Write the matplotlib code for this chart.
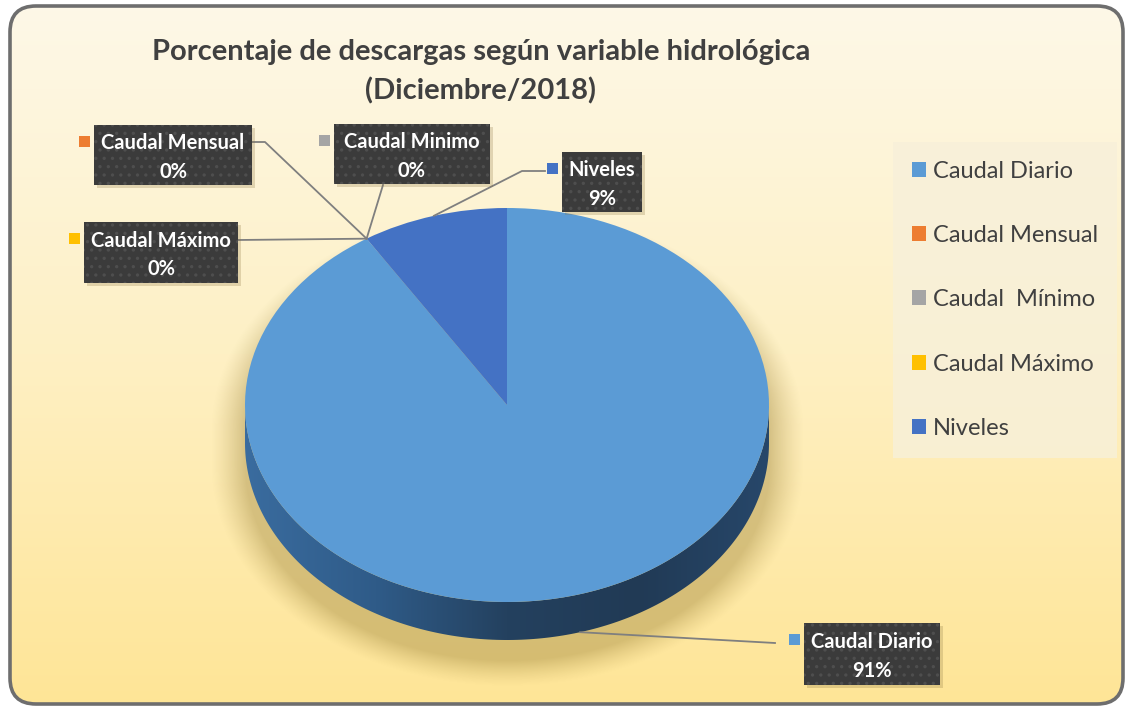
import matplotlib
matplotlib.use('Agg')
import matplotlib.pyplot as plt
import numpy as np
from matplotlib.colors import LinearSegmentedColormap
from matplotlib.patches import FancyBboxPatch, Rectangle, Polygon, Patch

plt.rcParams['font.family'] = ['Lato', 'DejaVu Sans']
plt.rcParams['hatch.linewidth'] = 1.2

W, H = 1135, 708

# data
categories = ['Caudal Diario', 'Caudal Mensual', 'Caudal Mínimo', 'Caudal Máximo', 'Niveles']
legend_labels = ['Caudal Diario', 'Caudal Mensual', 'Caudal  Mínimo', 'Caudal Máximo', 'Niveles']
box_names = ['Caudal Diario', 'Caudal Mensual', 'Caudal Minimo', 'Caudal Máximo', 'Niveles']
shares = [91, 0, 0, 0, 9]
colors = ['#5b9bd5', '#ed7d31', '#a5a5a5', '#ffc000', '#4472c4']
title = 'Porcentaje de descargas según variable hidrológica\n(Diciembre/2018)'

# pie geometry (pixels): centre, radii, thickness of the 3d side
CX, CY, RX, RY, DEPTH = 507, 405, 262, 197, 38

# label boxes: left, top, width, height ; and the elbow of each leader line
box_layout = [(804, 623, 136, 62), (94, 125, 158, 60), (334, 124, 156, 60),
              (84, 222, 154, 61), (562, 152, 80, 60)]
leader_ends = [[(775, 643)], [(265, 142), (252, 142)], [(383, 185)],
               [(238, 240)], [(522, 171), (545, 171)]]

fig = plt.figure(figsize=(W / 100, H / 100), dpi=100)
fig.patch.set_facecolor('white')


def pixel_axes(zorder):
    ax = fig.add_axes([0, 0, 1, 1], zorder=zorder)
    ax.set_xlim(0, W)
    ax.set_ylim(H, 0)
    ax.axis('off')
    ax.patch.set_alpha(0)
    return ax


ax_bg = pixel_axes(0)

# chart area: rounded frame with a cream -> yellow vertical gradient
frame = FancyBboxPatch((10, 6), W - 22, H - 10, boxstyle='round,pad=0,rounding_size=26',
                       facecolor='none', edgecolor='#6e6e6e', linewidth=2.6, zorder=5)
ax_bg.add_patch(frame)
grad_cmap = LinearSegmentedColormap.from_list('bg', ['#fdf8e8', '#fef0c4', '#ffe596'])
bg = ax_bg.imshow(np.linspace(0, 1, 256)[:, None], cmap=grad_cmap, aspect='auto',
                  extent=(0, W, H, 0), zorder=1)
bg.set_clip_path(frame)

# soft drop shadow under the pie (only shows below/around the lower half)
yy, xx = np.mgrid[0:H, 0:W]
cy_sweep = np.clip(yy, CY + 25, CY + DEPTH + 22)
r = np.sqrt(((xx - CX) / (RX + 8)) ** 2 + ((yy - cy_sweep) / (RY + 4)) ** 2)
alpha = np.clip((1.1 - r) / 0.13, 0, 1) ** 1.3 * 0.36
shadow = np.zeros((H, W, 4))
shadow[..., 0], shadow[..., 1], shadow[..., 2] = 0.55, 0.45, 0.15
shadow[..., 3] = alpha
sh = ax_bg.imshow(shadow, extent=(0, W, H, 0), aspect='auto', zorder=2)
sh.set_clip_path(frame)

# 3d side of the pie (front half only)
t = np.radians(np.linspace(180, 360, 200))
top_x = CX + RX * np.cos(t)
top_y = CY - RY * np.sin(t)
side_pts = np.concatenate([np.column_stack([top_x, top_y]),
                           np.column_stack([top_x[::-1], top_y[::-1] + DEPTH])])
side = Polygon(side_pts, closed=True, facecolor='none', edgecolor='none', zorder=3)
ax_bg.add_patch(side)
side_cmap = LinearSegmentedColormap.from_list(
    'side', ['#3a6c9f', '#2f5b88', '#24415f', '#213a55', '#27476a'])
side_img = ax_bg.imshow(np.linspace(0, 1, 256)[None, :], cmap=side_cmap, aspect='auto',
                        extent=(CX - RX, CX + RX, CY + RY + DEPTH + 2, CY - 5), zorder=3)
side_img.set_clip_path(side)

# top face of the pie
ax_pie = fig.add_axes([(CX - RX) / W, (H - CY - RY) / H, 2 * RX / W, 2 * RY / H], zorder=1)
ax_pie.pie(shares, colors=colors, startangle=90, counterclock=False, radius=1,
           wedgeprops=dict(linewidth=0))
ax_pie.set_xlim(-1, 1)
ax_pie.set_ylim(-1, 1)
ax_pie.set_aspect('auto')
ax_pie.axis('off')

ax = pixel_axes(2)

ax.text(481, 72, title, ha='center', va='center', fontsize=21, fontweight='bold',
        color='#404040', linespacing=1.55)

# data labels with leader lines
total = sum(shares)
cum = np.cumsum([0] + shares)
for i, name in enumerate(box_names):
    a0 = 90 - 360 * cum[i] / total
    a1 = 90 - 360 * cum[i + 1] / total
    mid = np.radians((a0 + a1) / 2)
    ax_x = CX + RX * np.cos(mid)
    ax_y = CY - RY * np.sin(mid)
    if np.sin(mid) < 0:
        ax_y += DEPTH
    path = [(ax_x, ax_y)] + leader_ends[i]
    ax.plot([p[0] for p in path], [p[1] for p in path], color='#7f7f7f', lw=1.3, zorder=3)

    bx, by, bw, bh = box_layout[i]
    ax.add_patch(Rectangle((bx + 3, by + 3), bw, bh, facecolor='#8a7440', alpha=0.25,
                           edgecolor='none', zorder=4))
    ax.add_patch(Rectangle((bx, by), bw, bh, facecolor='#3b3b3b', edgecolor='none', zorder=5))
    ax.add_patch(Rectangle((bx, by), bw, bh, facecolor='none', edgecolor='#4e4e4e',
                           linewidth=0, hatch='..', zorder=6))
    ax.text(bx + bw / 2, by + bh / 2 + 2.5, f'{name}\n{shares[i]}%', ha='center', va='center',
            fontsize=14.5, fontweight='bold', color='white', linespacing=1.55, zorder=7)
    ax.add_patch(Rectangle((bx - 15, by + 11), 11, 11, facecolor=colors[i],
                           edgecolor='none', zorder=5))

handles = [Patch(facecolor=c, edgecolor='none') for c in colors]
leg = ax.legend(handles, legend_labels, loc='upper left', bbox_to_anchor=(893 / W, 1 - 142 / H),
                bbox_transform=fig.transFigure, frameon=True, fancybox=False,
                fontsize=17, labelspacing=1.83, handlelength=0.6, handleheight=0.6,
                handletextpad=0.3, borderpad=0.8, borderaxespad=0)
leg.get_frame().set_facecolor('#f7f0da')
leg.get_frame().set_edgecolor('none')
leg.get_frame().set_alpha(0.8)
for txt in leg.get_texts():
    txt.set_color('#404040')

fig.savefig('out.png', dpi=100)
plt.close(fig)
